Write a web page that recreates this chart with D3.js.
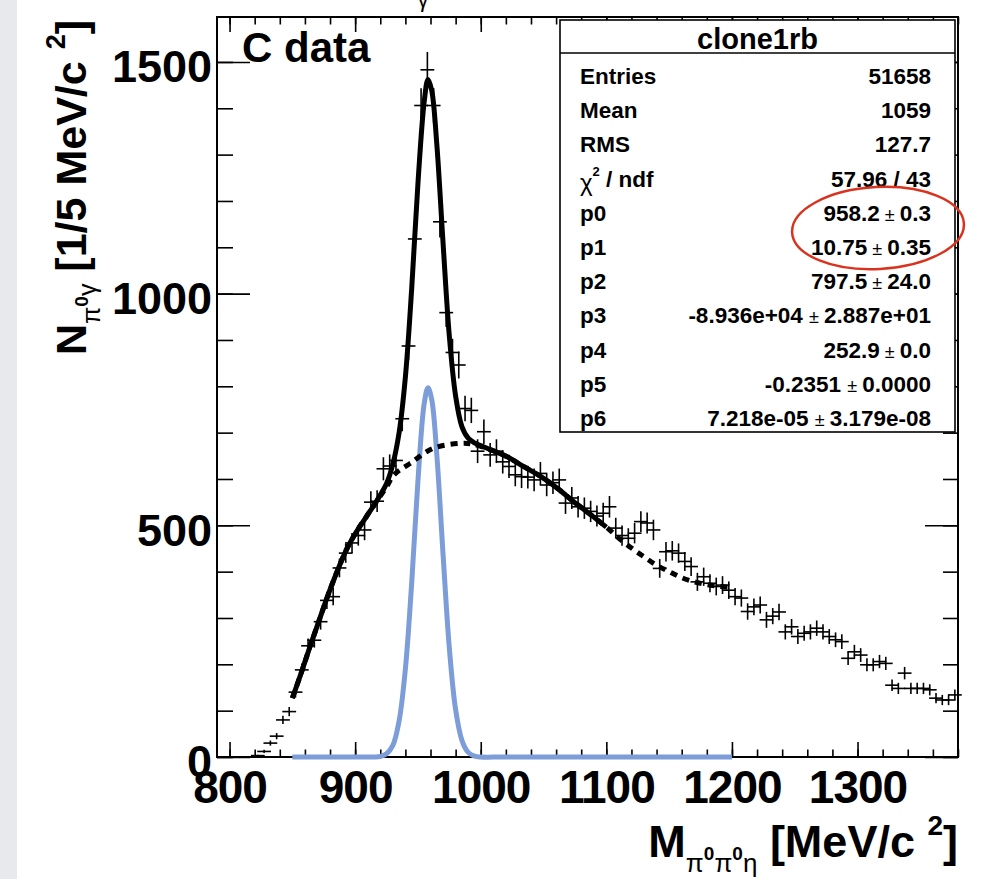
<!DOCTYPE html>
<html>
<head>
<meta charset="utf-8">
<script src="https://cdn.jsdelivr.net/npm/d3@7"></script>
<style>
  body { margin: 0; background: #fff; }
  svg { display: block; font-family: "Liberation Sans", Arial, Helvetica, sans-serif; font-weight: bold; }
</style>
</head>
<body>
<div id="chart"></div>
<script>
// histogram bin centres [MeV/c^2] and contents
var binCenters = [822.5, 827.5, 832.5, 837.5, 842.5, 847.5, 852.5, 857.5, 862.5, 867.5,
  872.5, 877.5, 882.5, 887.5, 892.5, 897.5, 902.5, 907.5, 912.5, 917.5,
  922.5, 927.5, 932.5, 937.5, 942.5, 947.5, 952.5, 957.5, 962.5, 967.5,
  972.5, 977.5, 982.5, 987.5, 992.5, 997.5, 1002.5, 1007.5, 1012.5, 1017.5,
  1022.5, 1027.5, 1032.5, 1037.5, 1042.5, 1047.5, 1052.5, 1057.5, 1062.5, 1067.5,
  1072.5, 1077.5, 1082.5, 1087.5, 1092.5, 1097.5, 1102.5, 1107.5, 1112.5, 1117.5,
  1122.5, 1127.5, 1132.5, 1137.5, 1142.5, 1147.5, 1152.5, 1157.5, 1162.5, 1167.5,
  1172.5, 1177.5, 1182.5, 1187.5, 1192.5, 1197.5, 1202.5, 1207.5, 1212.5, 1217.5,
  1222.5, 1227.5, 1232.5, 1237.5, 1242.5, 1247.5, 1252.5, 1257.5, 1262.5, 1267.5,
  1272.5, 1277.5, 1282.5, 1287.5, 1292.5, 1297.5, 1302.5, 1307.5, 1312.5, 1317.5,
  1322.5, 1327.5, 1332.5, 1337.5, 1342.5, 1347.5, 1352.5, 1357.5, 1362.5, 1367.5,
  1372.5, 1377.5];
var counts = [3, 12, 30, 45, 80, 98, 140, 188, 240, 252,
  292, 338, 346, 408, 440, 462, 478, 490, 550, 552,
  622, 628, 640, 730, 887, 1118, 1406, 1483, 1406, 1155,
  959, 873, 846, 752, 748, 660, 702, 652, 660, 637,
  627, 609, 605, 604, 598, 612, 587, 592, 598, 548,
  559, 540, 537, 530, 520, 526, 540, 494, 478, 472,
  483, 508, 505, 490, 407, 443, 445, 440, 422, 411,
  378, 389, 375, 368, 371, 360, 346, 343, 314, 324,
  328, 296, 304, 313, 270, 281, 260, 267, 270, 278,
  270, 260, 253, 249, 213, 227, 220, 199, 199, 206,
  202, 155, 148, 181, 148, 148, 148, 145, 127, 123,
  123, 134];

// full fit (solid), background part (dashed), signal part (blue)
var fitMass = [850, 857, 864, 871, 877, 885, 893, 901, 909, 917, 925, 930, 935, 940, 945,
  950, 955, 958, 961, 965, 970, 975, 980, 985, 990, 995, 1000, 1008, 1021, 1034,
  1048, 1061, 1074, 1088, 1100];
var fitVals = [127, 181, 238, 292, 339, 396, 447, 486, 519, 552, 590, 632, 700, 820, 1010,
  1238, 1415, 1462, 1438, 1323, 1109, 908, 779, 713, 688, 678, 672, 663, 648, 627,
  605, 580, 551, 522, 496];
var bkgMass = [850, 857, 864, 871, 877, 885, 893, 901, 909, 917, 925, 931, 944, 962, 984,
  992, 1008, 1021, 1034, 1048, 1061, 1074, 1088, 1101, 1110, 1120, 1130, 1140, 1150,
  1160, 1170, 1180, 1190, 1200];
var bkgVals = [127, 181, 238, 292, 339, 396, 447, 486, 519, 551, 583, 609, 634, 666, 677,
  676, 663, 648, 627, 605, 580, 551, 522, 494, 472, 451, 432, 414, 400,
  387, 378, 372, 368, 366];
var sigMass = [850, 900, 915, 920, 925, 930, 935, 940, 945, 950, 955, 958, 961, 965, 970,
  975, 980, 985, 990, 995, 1000, 1020, 1200];
var sigVals = [0, 0, 0, 1, 7, 25, 78, 190, 375, 596, 763, 797, 771, 653, 437,
  235, 102, 36, 10, 2, 0, 0, 0];

var xMajor = [800, 900, 1000, 1100, 1200, 1300];
var yMajor = [0, 500, 1000, 1500];

var statTitle = 'clone1rb';
var statLabels = ['Entries', 'Mean', 'RMS', 'chi2', 'p0', 'p1', 'p2', 'p3', 'p4', 'p5', 'p6'];
var statValues = ['51658', '1059', '127.7', '57.96 / 43', '958.2', '10.75', '797.5',
  '-8.936e+04 ', '252.9', '-0.2351 ', '7.218e-05 '];
var statErrors = [null, null, null, null, '0.3', '0.35', '24.0', '2.887e+01', '0.0', '0.0000', '3.179e-08'];

var W = 987, H = 879;
var svg = d3.select('#chart').append('svg').attr('width', W).attr('height', H);

svg.append('rect').attr('x', 0).attr('y', 0).attr('width', 17).attr('height', H).attr('fill', '#e8e9ec');

var x = d3.scaleLinear().domain([790, 1380]).range([217, 958]);
var y = d3.scaleLinear().domain([0, 1597]).range([757, 17]);

function addAxis(gen, tx, ty, fs) {
  var g = svg.append('g').attr('transform', 'translate(' + tx + ',' + ty + ')').call(gen);
  g.select('.domain').remove();
  g.selectAll('line').attr('stroke', '#000').attr('stroke-width', 1.6);
  g.attr('font-family', '"Liberation Sans", Arial, sans-serif').attr('font-size', fs || 10)
    .attr('font-weight', 'bold');
  g.selectAll('text').attr('fill', '#000');
  return g;
}

var xMinor = d3.range(800, 1381, 20),
    yMinor = d3.range(0, 1597, 100);

// minor ticks
addAxis(d3.axisBottom(x).tickValues(xMinor).tickSize(-7.5).tickFormat(''), 0, 757);
addAxis(d3.axisTop(x).tickValues(xMinor).tickSize(-7.5).tickFormat(''), 0, 17);
addAxis(d3.axisLeft(y).tickValues(yMinor).tickSize(-16).tickFormat(''), 217, 0);
addAxis(d3.axisRight(y).tickValues(yMinor).tickSize(-15).tickFormat(''), 958, 0);

// major ticks
var xAx = addAxis(d3.axisBottom(x).tickValues(xMajor).tickSize(-15).tickPadding(13).tickFormat(d3.format('d')), 0, 757, 46);
xAx.selectAll('text').attr('letter-spacing', -1);
addAxis(d3.axisTop(x).tickValues(xMajor).tickSize(-15).tickFormat(''), 0, 17);
var yAx = addAxis(d3.axisLeft(y).tickValues(yMajor).tickSize(-33).tickPadding(5).tickFormat(d3.format('d')), 217, 0, 45);
yAx.selectAll('text').attr('dy', '0.44em');
addAxis(d3.axisRight(y).tickValues(yMajor).tickSize(-33).tickFormat(''), 958, 0);

// frame
svg.append('rect').attr('x', 217).attr('y', 17).attr('width', 958 - 217).attr('height', 757 - 17)
  .attr('fill', 'none').attr('stroke', '#000').attr('stroke-width', 2);

// data crosses
var pts = binCenters.map(function(m, i) { return {m: m, n: counts[i]}; });
var cross = svg.append('g').attr('stroke', '#000').attr('stroke-width', 1.6);
cross.selectAll('line.h').data(pts).enter().append('line')
  .attr('x1', function(d) { return x(d.m - 5.5); })
  .attr('x2', function(d) { return x(d.m + 5.5); })
  .attr('y1', function(d) { return y(d.n); })
  .attr('y2', function(d) { return y(d.n); });
cross.selectAll('line.v').data(pts).enter().append('line')
  .attr('x1', function(d) { return x(d.m); })
  .attr('x2', function(d) { return x(d.m); })
  .attr('y1', function(d) { return y(Math.max(0, d.n - Math.sqrt(d.n))); })
  .attr('y2', function(d) { return y(d.n + Math.sqrt(d.n)); });

// curves
var line = d3.line().x(function(d) { return x(d[0]); }).y(function(d) { return y(d[1]); })
  .curve(d3.curveCatmullRom);
svg.append('path').attr('d', line(d3.zip(sigMass, sigVals)))
  .attr('fill', 'none').attr('stroke', '#7c9dd8').attr('stroke-width', 5);
svg.append('path').attr('d', line(d3.zip(bkgMass, bkgVals)))
  .attr('fill', 'none').attr('stroke', '#000').attr('stroke-width', 5).attr('stroke-dasharray', '7,6');
svg.append('path').attr('d', line(d3.zip(fitMass, fitVals)))
  .attr('fill', 'none').attr('stroke', '#000').attr('stroke-width', 5);

// stats box
var bx0 = 560, bx1 = 955, by0 = 20, by1 = 432;
svg.append('rect').attr('x', bx0).attr('y', by0).attr('width', bx1 - bx0).attr('height', by1 - by0)
  .attr('fill', '#fff').attr('stroke', '#000').attr('stroke-width', 1.6);
svg.append('line').attr('x1', bx0).attr('x2', bx1).attr('y1', 53).attr('y2', 53)
  .attr('stroke', '#000').attr('stroke-width', 1.6);
svg.append('text').attr('x', (bx0 + bx1) / 2).attr('y', 49).attr('text-anchor', 'middle')
  .attr('font-size', 29).text(statTitle);

var rows = svg.append('g').attr('font-size', 22.5).style('white-space', 'pre');
statLabels.forEach(function(lab, i) {
  var yy = 84 + i * 34.2;
  var t = rows.append('text').attr('x', 580).attr('y', yy);
  if (lab === 'chi2') {
    t.append('tspan').attr('font-weight', 'normal').attr('font-size', 24).attr('dy', 4).text('\u03c7');
    t.append('tspan').attr('font-size', 13).attr('dy', -15).text('2');
    t.append('tspan').attr('dy', 11).text(' / ndf');
  } else {
    t.text(lab);
  }
  var v = rows.append('text').attr('x', 931).attr('y', yy).attr('text-anchor', 'end');
  v.append('tspan').text(statValues[i]);
  if (statErrors[i] !== null) {
    v.append('tspan').attr('font-weight', 'normal').attr('font-size', 18).text(' \u00b1 ');
    v.append('tspan').text(statErrors[i]);
  }
});

// highlight ring
svg.append('ellipse').attr('cx', 878).attr('cy', 228).attr('rx', 86).attr('ry', 41)
  .attr('transform', 'rotate(-3,878,228)')
  .attr('fill', 'none').attr('stroke', '#d9331f').attr('stroke-width', 2.5);

// labels
svg.append('text').attr('x', 242).attr('y', 62).attr('font-size', 42).text('C data');
svg.append('text').attr('x', 423).attr('y', 7).attr('text-anchor', 'middle')
  .attr('font-weight', 'normal').attr('font-size', 22).text('\u03b3');

// x title
var xt = svg.append('text').attr('x', 958).attr('y', 857).attr('text-anchor', 'end').attr('font-size', 45);
xt.append('tspan').text('M');
xt.append('tspan').attr('font-size', 26).attr('font-weight', 'normal').attr('dy', 15).text('\u03c0');
xt.append('tspan').attr('font-size', 19).attr('dy', -12).text('0');
xt.append('tspan').attr('font-size', 26).attr('font-weight', 'normal').attr('dy', 12).text('\u03c0');
xt.append('tspan').attr('font-size', 19).attr('dy', -12).text('0');
xt.append('tspan').attr('font-size', 26).attr('font-weight', 'normal').attr('dy', 12).text('\u03b7');
xt.append('tspan').attr('dy', -15).text(' [MeV/c ');
xt.append('tspan').attr('font-size', 28).attr('dy', -22).text('2');
xt.append('tspan').attr('dy', 22).text(']');

// y title
var yt = svg.append('text').attr('transform', 'translate(86,20) rotate(-90)')
  .attr('text-anchor', 'end').attr('font-size', 43);
yt.append('tspan').text('N');
yt.append('tspan').attr('font-size', 25).attr('font-weight', 'normal').attr('dy', 14).text('\u03c0');
yt.append('tspan').attr('font-size', 19).attr('dy', -12).text('0');
yt.append('tspan').attr('font-size', 25).attr('font-weight', 'normal').attr('dy', 8).text('\u03b3');
yt.append('tspan').attr('dy', -10).text(' [1/5 MeV/c ');
yt.append('tspan').attr('font-size', 27).attr('dy', -21).text('2');
yt.append('tspan').attr('dy', 21).text(']');
</script>
</body>
</html>
